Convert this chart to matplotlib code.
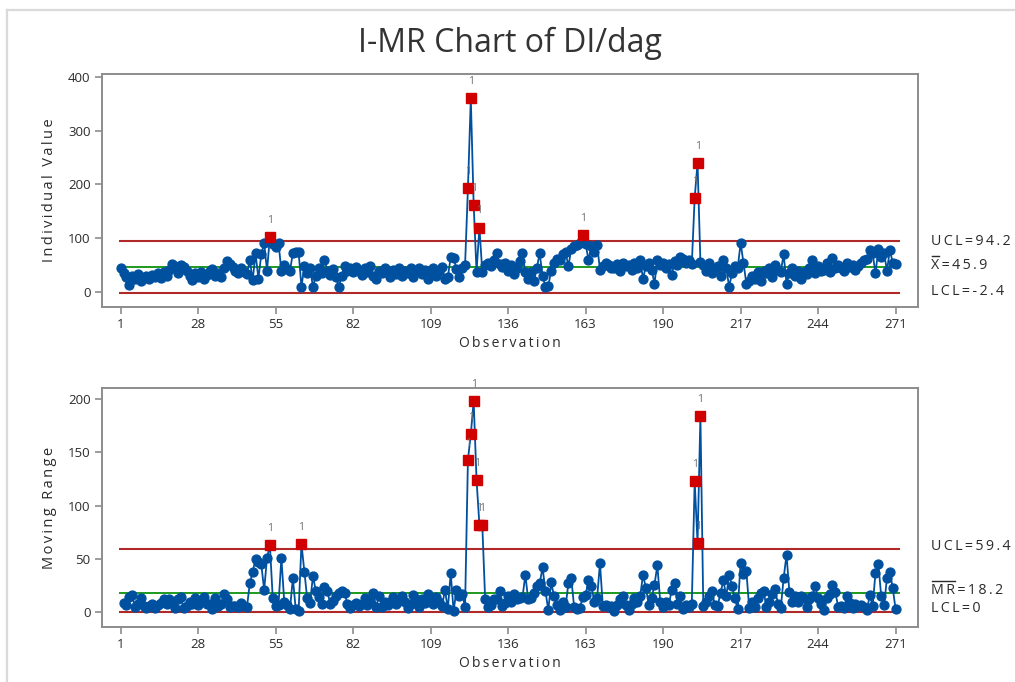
import matplotlib
matplotlib.use("Agg")
import matplotlib.pyplot as plt
import numpy as np
from matplotlib.lines import Line2D
from matplotlib.transforms import blended_transform_factory, offset_copy

plt.rcParams['font.family'] = ['Open Sans', 'DejaVu Sans']

# Daily DI values (one per observation)
individual = [
    44, 35, 28, 14, 30, 25, 33, 20, 26, 30,
    24, 32, 28, 35, 26, 38, 30, 42, 52, 48,
    36, 50, 46, 40, 30, 22, 35, 28, 38, 24,
    32, 40, 43, 30, 36, 28, 45, 57, 52, 46,
    40, 35, 44, 38, 33, 60, 22, 72, 25, 70,
    91, 40, 103, 90, 84, 91, 40, 50, 43, 40,
    72, 75, 74, 10, 48, 35, 44, 10, 30, 44,
    36, 60, 40, 32, 43, 28, 10, 30, 48, 40,
    44, 37, 46, 40, 32, 45, 38, 48, 30, 25,
    40, 35, 45, 38, 28, 42, 34, 45, 30, 40,
    36, 44, 28, 40, 45, 33, 42, 25, 36, 44,
    30, 40, 46, 25, 28, 65, 64, 43, 28, 45,
    50, 193, 360, 162, 38, 120, 38, 50, 55, 48,
    60, 72, 52, 46, 55, 40, 50, 33, 45, 58,
    72, 37, 25, 38, 20, 45, 72, 30, 10, 12,
    40, 55, 62, 60, 70, 75, 48, 80, 85, 88,
    92, 106, 90, 60, 85, 75, 88, 42, 48, 55,
    50, 44, 45, 52, 40, 55, 48, 50, 42, 55,
    45, 60, 25, 48, 55, 42, 16, 60, 50, 55,
    45, 52, 31, 58, 50, 65, 62, 55, 60, 52,
    175, 240, 56, 50, 40, 55, 35, 42, 48, 30,
    60, 45, 10, 35, 48, 45, 91, 55, 16, 20,
    30, 25, 38, 20, 40, 35, 45, 28, 50, 42,
    38, 70, 16, 35, 45, 30, 40, 25, 38, 33,
    45, 60, 35, 48, 40, 42, 55, 38, 64, 45,
    50, 44, 40, 55, 46, 50, 42, 48, 55, 60,
    62, 78, 72, 35, 80, 65, 72, 40, 78, 55, 52,
]

# Control limits
i_ucl, i_cl, i_lcl = 94.2, 45.9, -2.4
mr_ucl, mr_cl, mr_lcl = 59.4, 18.2, 0.0

x_ticks = [1, 28, 55, 82, 109, 136, 163, 190, 217, 244, 271]
i_yticks = [0, 100, 200, 300, 400]
mr_yticks = [0, 50, 100, 150, 200]

individual = np.array(individual, dtype=float)
obs = np.arange(1, len(individual) + 1)
moving_range = np.abs(np.diff(individual))
mr_obs = obs[1:]

BLUE = '#0050A0'
RED = '#D00000'
LIMIT = '#B02828'
CENTER = '#1E9A1E'
SPINE = '#8C8C8C'
TEXT = '#2B2B2B'
THIN = '\u2009'
LABEL_SIZE = 10.3


def spaced(s):
    """Loosen letter spacing with thin spaces."""
    return THIN.join(s)


fig = plt.figure(figsize=(10.15, 6.82), dpi=100)
fig.patch.set_facecolor('white')

ax1 = fig.add_axes([0.1002, 0.5503, 0.8042, 0.3412])
ax2 = fig.add_axes([0.1002, 0.0811, 0.8042, 0.3495])


def draw_panel(ax, x, y, ucl, cl, lcl, ylim, yticks, ylabel, labels):
    ax.hlines([ucl, lcl], 0.3, 272.6, color=LIMIT, lw=1.5, zorder=1)
    ax.hlines([cl], 0.3, 272.6, color=CENTER, lw=1.4, zorder=1)
    ax.plot(x, y, color=BLUE, lw=1.3, zorder=2)
    out = (y > ucl) | (y < lcl)
    ax.plot(x[~out], y[~out], 'o', color=BLUE, ms=6.4, mec=BLUE, zorder=3)
    ax.plot(x[out], y[out], 's', color=RED, ms=6.8, mec=RED, zorder=4)
    for xi, yi in zip(x[out], y[out]):
        ax.annotate('1', (xi, yi), xytext=(0, 8), textcoords='offset points',
                    ha='center', va='bottom', fontsize=7.5, color='#707070',
                    zorder=5)
    ax.set_xlim(-5.6, 278.8)
    ax.set_ylim(*ylim)
    ax.set_xticks(x_ticks)
    ax.set_yticks(yticks)
    for s in ax.spines.values():
        s.set_color(SPINE)
        s.set_linewidth(1.4)
    ax.tick_params(axis='both', direction='out', length=5, width=1.2,
                   color=SPINE, labelsize=9.5, labelcolor=TEXT, pad=3)
    ax.set_xlabel(spaced('Observation'), fontsize=10, color=TEXT, labelpad=4)
    ax.set_ylabel(spaced(ylabel), fontsize=10.5, color=TEXT, labelpad=8)
    tr = blended_transform_factory(ax.transAxes, ax.transData)
    for val, txt, dy in labels:
        t = offset_copy(tr, fig=fig, x=0, y=dy, units='points')
        ax.text(1.016, val, spaced(txt), transform=t, ha='left', va='center',
                fontsize=LABEL_SIZE, color=TEXT)


draw_panel(ax1, obs, individual, i_ucl, i_cl, i_lcl, (-27, 405), i_yticks,
           'Individual Value',
           [(i_ucl, 'UCL=94.2', 0), (i_cl, 'X=45.9', 1.5), (i_lcl, 'LCL=-2.4', 1.5)])
draw_panel(ax2, mr_obs, moving_range, mr_ucl, mr_cl, mr_lcl, (-13.5, 210),
           mr_yticks, 'Moving Range',
           [(mr_ucl, 'UCL=59.4', 2), (mr_cl, 'MR=18.2', 2), (mr_lcl, 'LCL=0', 3)])

fig.text(0.5025, 0.937, 'I-MR Chart of DI/dag', ha='center', va='center',
         fontsize=23, color='#333333')

# Bars over the statistic symbols on the right-hand labels
fig.canvas.draw()
renderer = fig.canvas.get_renderer()
W, H = fig.bbox.width, fig.bbox.height
for ax, sym in ((ax1, 'X'), (ax2, 'MR')):
    for t in ax.texts:
        if t.get_text().startswith(spaced(sym)):
            bb = t.get_window_extent(renderer)
            probe = ax.text(0, 0, spaced(sym), fontsize=LABEL_SIZE, transform=None)
            w = probe.get_window_extent(renderer).width
            probe.remove()
            yb = bb.y1 + 1.5
            fig.add_artist(Line2D([bb.x0 / W + 0.0005, (bb.x0 + w) / W - 0.0005],
                                  [yb / H, yb / H], color=TEXT, lw=1.0))
            break

# Frame edge along the top and left
fig.add_artist(Line2D([7 / 1015, 7 / 1015], [0, 1 - 10 / 682],
                      color='#DADADA', lw=1.6))
fig.add_artist(Line2D([7 / 1015, 1], [1 - 10 / 682, 1 - 10 / 682],
                      color='#DADADA', lw=1.6))

fig.savefig('out.png', dpi=100, facecolor='white')
